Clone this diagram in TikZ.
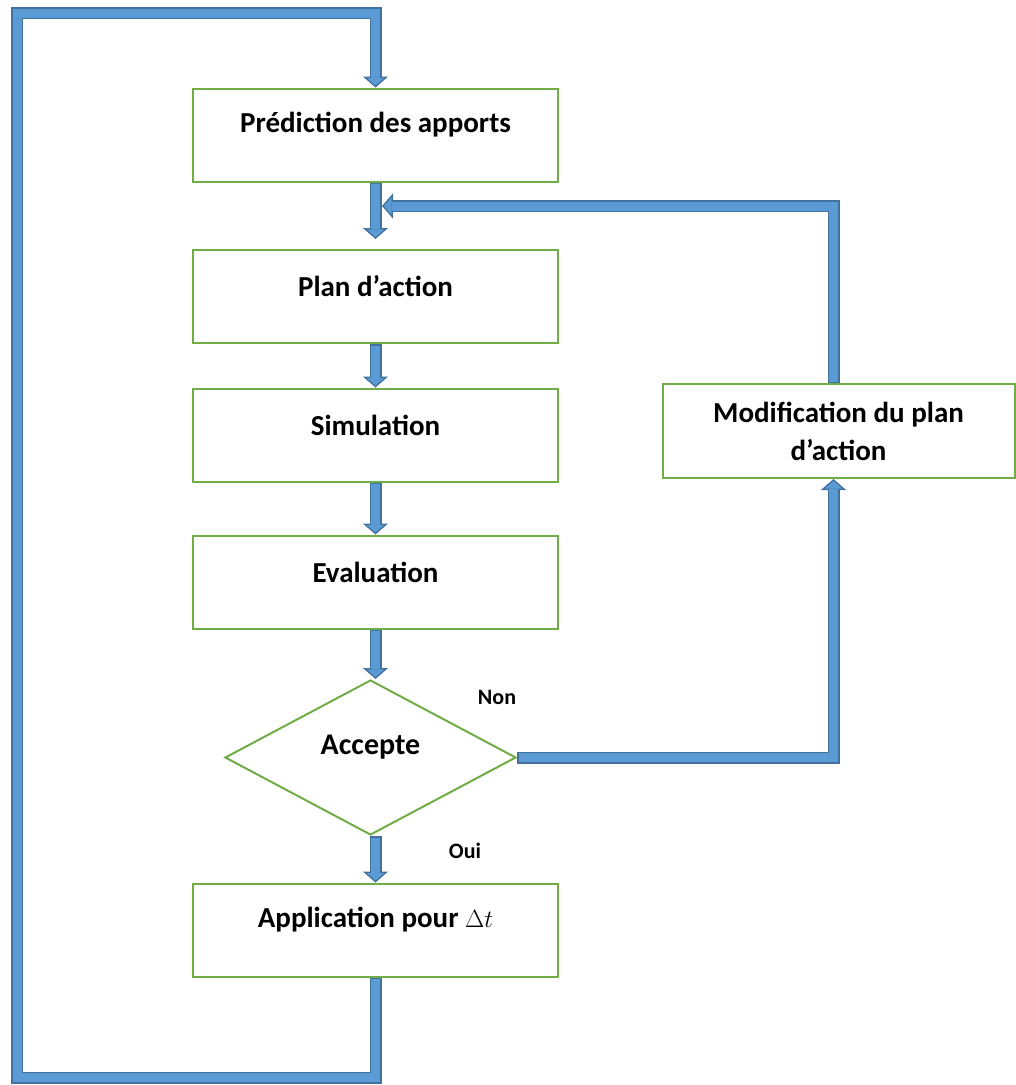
\documentclass[tikz,border=0pt]{standalone}
\usepackage{fontspec}
\setmainfont{Carlito}
\usetikzlibrary{shapes.geometric,arrows.meta,calc}
\definecolor{boxgreen}{HTML}{70AD47}
\definecolor{arrowfill}{HTML}{5B9BD5}
\definecolor{arrowedge}{HTML}{41719C}

\newcommand\flowarrow[1]{%
\draw[arrowedge,line width=12pt,line join=miter,-{Triangle[width=25pt,length=11pt,line width=1.3pt,fill=arrowfill]}] #1;
\draw[arrowfill,line width=9pt,line join=miter,shorten >=10pt,shorten <=1.5pt] #1;}
\newcommand\up[1]{\raisebox{10pt}[\height][\depth]{#1}}

\begin{document}
\begin{tikzpicture}[x=1pt,y=-1pt,
stepbox/.style={draw=boxgreen,line width=2pt,minimum width=365pt,minimum height=93pt,font=\bfseries\fontsize{29}{38}\selectfont,align=center},
decision/.style={diamond,draw=boxgreen,line width=2pt,minimum width=291pt,minimum height=155pt,inner sep=0pt,font=\bfseries\fontsize{30}{36}\selectfont},
branch/.style={font=\bfseries\fontsize{22}{26}\selectfont}]
\useasboundingbox (0,0) rectangle (1016,1085);
\node[stepbox] (pred) at (375.5,135) {\up{Prédiction des apports}};
\node[stepbox] (plan) at (375.5,296.5) {\up{Plan d’action}};
\node[stepbox] (simu) at (375.5,435) {\up{Simulation}};
\node[stepbox] (eval) at (375.5,582) {\up{Evaluation}};
\node[decision] (accept) at (370.5,757.5) {\up{Accepte}};
\node[stepbox] (appl) at (375.5,930) {\up{Application pour $\Delta t$}};
\node[stepbox,minimum width=352pt,minimum height=94pt] (modif) at (838.5,431) {Modification du plan\\d’action};
\node[branch] (lblnon) at (497,697) {Non};
\node[branch] (lbloui) at (465,851) {Oui};
\coordinate (join) at (382,206);
% main column
\flowarrow{(pred.south) -- ([yshift=10pt]plan.north)}
\flowarrow{(plan.south) -- (simu.north)}
\flowarrow{(simu.south) -- (eval.north)}
\flowarrow{(eval.south) -- (eval.south |- accept.north)}
\flowarrow{(eval.south |- accept.south) -- (appl.north)}
% loops
\flowarrow{(appl.south) -- ++(0,100) -| (17,13) -| (pred.north)}
\flowarrow{(accept.east) -| ([xshift=-5pt]modif.south)}
\flowarrow{([xshift=-5pt]modif.north) |- (join)}
\end{tikzpicture}
\end{document}
